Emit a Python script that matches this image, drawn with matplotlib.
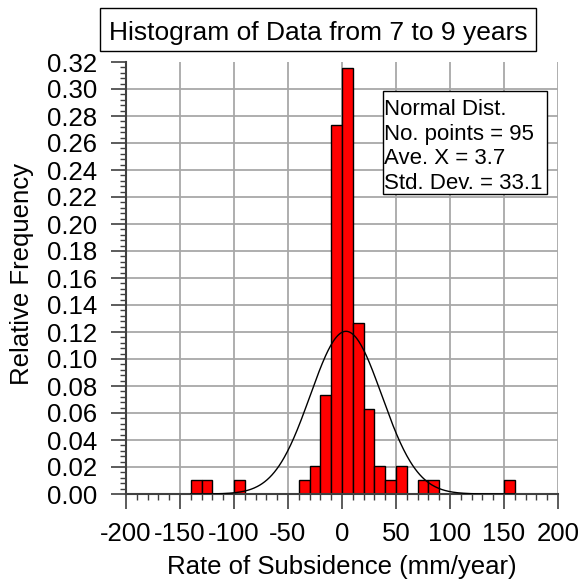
import numpy as np
import matplotlib
matplotlib.use("Agg")
import matplotlib.pyplot as plt
from matplotlib.patches import Rectangle
from matplotlib.ticker import MultipleLocator, FormatStrFormatter

plt.rcParams['font.family'] = ['Liberation Sans', 'DejaVu Sans']
plt.rcParams['axes.unicode_minus'] = False

# histogram bins (left edge, width 10 mm/year) and counts
bin_left = [-140, -130, -100, -40, -30, -20, -10, 0, 10, 20, 30, 40, 50, 70, 80, 150]
counts = [1, 1, 1, 1, 2, 7, 26, 30, 12, 6, 2, 1, 2, 1, 1, 1]
bin_width = 10
n_points = 95
mean_x = 3.7
std_dev = 33.1

rel_freq = np.array(counts) / n_points

W = 582.0
fig = plt.figure(figsize=(5.82, 5.82), dpi=100)
ax = fig.add_axes([126 / W, 1 - 494 / W, 432 / W, 432 / W])


def px(x, y):
    # pixel position (from top-left) -> figure fraction
    return x / W, 1 - y / W


# grid drawn by hand so the top edge stays open
for gx in range(-150, 201, 50):
    ax.axvline(gx, color='#a8a8a8', lw=1.3, zorder=0)
for gy in np.arange(0.02, 0.31, 0.02):
    ax.axhline(gy, color='#a8a8a8', lw=1.3, zorder=0)

ax.bar(bin_left, rel_freq, width=bin_width, align='edge',
       color='#ff0000', edgecolor='black', lw=1.0, zorder=2)

# fitted normal curve, scaled to the bin width
xs = np.linspace(-140, 160, 400)
pdf = bin_width / (std_dev * np.sqrt(2 * np.pi)) * np.exp(-0.5 * ((xs - mean_x) / std_dev) ** 2)
ax.plot(xs, pdf, color='black', lw=1.0, zorder=3)

ax.set_xlim(-200, 200)
ax.set_ylim(0, 0.32)
ax.xaxis.set_major_locator(MultipleLocator(50))
ax.xaxis.set_minor_locator(MultipleLocator(10))
ax.yaxis.set_major_locator(MultipleLocator(0.02))
ax.yaxis.set_minor_locator(MultipleLocator(0.004))
ax.yaxis.set_major_formatter(FormatStrFormatter('%.2f'))
ax.tick_params(which='major', length=11, width=1.2, color='#404040', labelsize=18.5)
ax.tick_params(which='minor', length=4.5, width=1.0, color='#404040')
ax.tick_params(axis='x', which='major', pad=9)
ax.tick_params(axis='y', which='major', pad=10)

for side in ('top', 'right'):
    ax.spines[side].set_visible(False)
for side in ('left', 'bottom'):
    ax.spines[side].set_linewidth(1.5)
    ax.spines[side].set_color('#404040')

# axis titles
fig.text(*px(342, 574), 'Rate of Subsidence (mm/year)', fontsize=18.5,
         ha='center', va='baseline')
fig.text(*px(29, 274), 'Relative Frequency', fontsize=18.5, rotation=90,
         rotation_mode='anchor', ha='center', va='baseline')

# boxed title
fig.add_artist(Rectangle(px(100, 51), 436 / W, 43 / W, transform=fig.transFigure,
                         fc='white', ec='black', lw=1.0))
fig.text(*px(318, 40), 'Histogram of Data from 7 to 9 years', fontsize=19,
         ha='center', va='baseline')

# statistics box
stats = ['Normal Dist.',
         'No. points = %d' % n_points,
         'Ave. X = %.1f' % mean_x,
         'Std. Dev. = %.1f' % std_dev]
fig.add_artist(Rectangle(px(383, 194), 164 / W, 103 / W, transform=fig.transFigure,
                         fc='white', ec='black', lw=1.0, zorder=5))
for i, line in enumerate(stats):
    fig.text(*px(384, 115 + 24.7 * i), line, fontsize=16,
             ha='left', va='baseline', zorder=6)

fig.savefig('out.png', dpi=100)
